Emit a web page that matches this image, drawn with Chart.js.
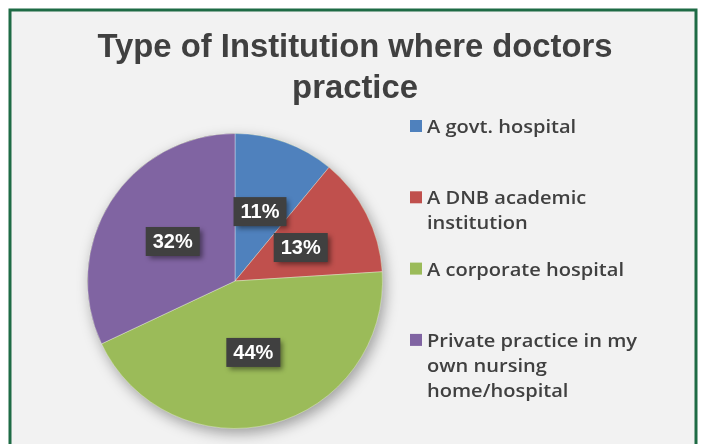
<!DOCTYPE html>
<html>
<head>
<meta charset="utf-8">
<script src="https://cdn.jsdelivr.net/npm/chart.js@4.4.1/dist/chart.umd.min.js"></script>
<style>
    html, body { margin: 0; padding: 0; background: #fff; }
    #pieChart { display: block; }
</style>
</head>
<body>
<canvas id="pieChart" width="702" height="444"></canvas>
<script>
// --- Chart data ---
const chartTitle = ['Type of Institution where doctors', 'practice'];
const categories = [
    ['A govt. hospital'],
    ['A DNB academic', 'institution'],
    ['A corporate hospital'],
    ['Private practice in my', 'own nursing', 'home/hospital']
];
const shares = [11, 13, 44, 32];
const sliceColors = ['#4f81bd', '#c0504d', '#9bbb59', '#8064a2'];

const textColor = '#404040';

// --- Frame + panel background ---
const framePlugin = {
    id: 'frame',
    beforeDraw(chart) {
        const ctx = chart.ctx;
        ctx.save();
        ctx.fillStyle = '#ffffff';
        ctx.fillRect(0, 0, chart.width, chart.height);
        ctx.fillStyle = '#f2f2f2';
        ctx.fillRect(10, 10, 686, 460);
        ctx.strokeStyle = '#1e6b45';
        ctx.lineWidth = 3;
        ctx.strokeRect(10, 10, 686, 460);
        ctx.restore();
    }
};

// --- Title (two centred lines, condensed bold) ---
const titlePlugin = {
    id: 'bigTitle',
    afterDraw(chart) {
        const ctx = chart.ctx;
        const baselines = [57, 98];
        ctx.save();
        ctx.font = 'bold 34px "Liberation Sans Narrow", "Liberation Sans", Arial, sans-serif';
        ctx.fillStyle = textColor;
        ctx.textAlign = 'center';
        ctx.textBaseline = 'alphabetic';
        const sx = 515 / ctx.measureText(chartTitle[0]).width;
        chartTitle.forEach((line, i) => {
            ctx.save();
            ctx.translate(355, baselines[i]);
            ctx.scale(sx, 1);
            ctx.fillText(line, 0, 0);
            ctx.restore();
        });
        ctx.restore();
    }
};

// --- Soft shadow under the whole pie ---
const pieShadowPlugin = {
    id: 'pieShadow',
    beforeDatasetsDraw(chart) {
        const arc = chart.getDatasetMeta(0).data[0];
        if (!arc) return;
        const ctx = chart.ctx;
        ctx.save();
        ctx.shadowColor = 'rgba(0,0,0,0.35)';
        ctx.shadowBlur = 14;
        ctx.shadowOffsetX = 3;
        ctx.shadowOffsetY = 5;
        ctx.fillStyle = '#9bbb59';
        ctx.beginPath();
        ctx.arc(arc.x, arc.y, arc.outerRadius, 0, Math.PI * 2);
        ctx.fill();
        ctx.restore();
    }
};

// --- Dark percentage boxes ---
const labelBoxPlugin = {
    id: 'labelBoxes',
    afterDatasetsDraw(chart) {
        const ctx = chart.ctx;
        const meta = chart.getDatasetMeta(0);
        ctx.save();
        ctx.font = 'bold 20px "Liberation Sans", Arial, sans-serif';
        meta.data.forEach((arc, i) => {
            const pos = arc.tooltipPosition();
            const text = shares[i] + '%';
            const w = ctx.measureText(text).width + 14;
            const h = 29;
            ctx.save();
            ctx.shadowColor = 'rgba(0,0,0,0.45)';
            ctx.shadowBlur = 5;
            ctx.shadowOffsetX = 3;
            ctx.shadowOffsetY = 3;
            ctx.fillStyle = '#404040';
            ctx.fillRect(pos.x - w / 2, pos.y - h / 2, w, h);
            ctx.restore();
            ctx.fillStyle = '#ffffff';
            ctx.textAlign = 'center';
            ctx.textBaseline = 'middle';
            ctx.fillText(text, pos.x, pos.y + 1);
        });
        ctx.restore();
    }
};

// --- Legend on the right, wrapped lines ---
const legendPlugin = {
    id: 'sideLegend',
    afterDraw(chart) {
        const ctx = chart.ctx;
        ctx.save();
        ctx.font = '600 18px "Open Sans", "Liberation Sans", Arial, sans-serif';
        ctx.textBaseline = 'alphabetic';
        ctx.textAlign = 'left';
        // widest line in the reference spans about 210px
        const sx = 210 / ctx.measureText(categories[3][0]).width;
        categories.forEach((lines, i) => {
            const base = 133 + i * 71.3;
            ctx.fillStyle = sliceColors[i];
            ctx.fillRect(410, base - 13, 12, 12);
            ctx.fillStyle = textColor;
            lines.forEach((line, j) => {
                ctx.save();
                ctx.translate(427, base + j * 25);
                ctx.scale(sx, 1);
                ctx.fillText(line, 0, 0);
                ctx.restore();
            });
        });
        ctx.restore();
    }
};

new Chart(document.getElementById('pieChart').getContext('2d'), {
    type: 'pie',
    data: {
        labels: categories,
        datasets: [{
            data: shares,
            backgroundColor: sliceColors,
            borderColor: 'rgba(255,255,255,0.35)',
            borderWidth: 1
        }]
    },
    options: {
        responsive: false,
        animation: false,
        devicePixelRatio: 1,
        layout: { padding: { top: 133, left: 87, right: 319, bottom: 15 } },
        plugins: {
            legend: { display: false },
            title: { display: false },
            tooltip: { enabled: false }
        }
    },
    plugins: [framePlugin, pieShadowPlugin, labelBoxPlugin, titlePlugin, legendPlugin]
});
</script>
</body>
</html>
